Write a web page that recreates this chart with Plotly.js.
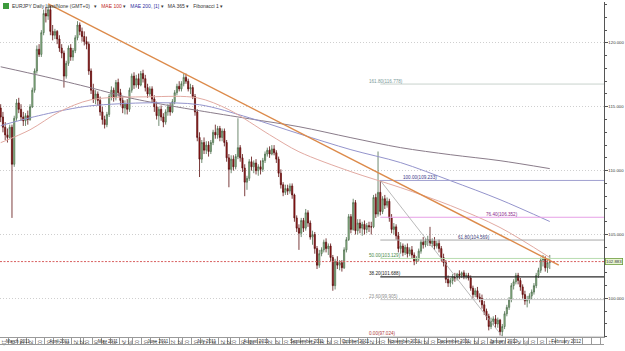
<!DOCTYPE html>
<html><head><meta charset="utf-8">
<script src="https://cdn.plot.ly/plotly-3.0.1.min.js"></script>
<style>html,body{margin:0;padding:0;background:#fff}#chart{width:625px;height:351px}</style>
</head><body><div id="chart"></div>
<script>
// ---------- DATA ----------
const startDate = '2011-03-10';
const firstOpen = 114.9;
const closeP = [
114.2,113.4,112.8,112.6,113.4,110.5,114.1,115.3,114.8,114.2,
113.9,114.3,114.0,115.0,116.3,117.8,119.5,119.1,120.8,122.3,
122.1,122.6,120.9,120.6,120.9,120.3,119.6,119.2,117.4,118.4,
119.6,118.9,119.4,120.4,121.4,120.9,120.5,120.1,119.9,117.8,
116.3,115.6,116.0,115.5,114.6,114.0,113.6,114.4,115.8,116.3,
115.7,116.9,116.1,115.5,114.9,115.2,114.8,116.3,117.4,116.7,
117.2,116.7,117.6,117.2,116.5,116.0,116.4,115.6,115.0,114.3,
114.8,114.2,113.8,114.6,115.0,114.6,115.4,116.1,116.6,116.4,
116.8,117.3,117.0,116.4,116.5,115.8,114.6,112.6,110.9,112.2,
111.6,112.0,111.5,112.2,113.0,112.8,113.3,112.6,113.1,112.2,
111.0,110.1,110.9,110.3,111.1,111.8,111.0,110.2,109.1,109.4,
110.7,110.3,110.6,110.0,110.3,110.1,110.8,111.3,111.6,111.3,
111.7,111.4,110.9,109.8,108.9,108.3,108.6,108.4,108.8,108.1,
106.3,105.5,105.1,106.1,105.5,106.7,105.9,104.8,105.0,103.9,
102.6,103.5,103.8,104.4,103.9,104.1,103.2,101.0,102.9,102.6,
102.8,102.4,103.8,104.6,106.4,105.4,107.5,105.3,105.9,105.5,
105.8,105.4,105.7,105.6,105.6,107.9,106.6,108.3,106.8,107.8,
107.3,107.6,106.3,105.4,105.6,104.9,103.9,104.1,103.6,104.0,
103.5,103.8,103.4,102.9,103.1,103.7,104.4,104.2,104.5,104.6,
104.3,104.5,104.1,104.3,103.9,103.2,102.8,101.5,101.2,101.4,
101.7,101.6,101.9,101.8,102.0,101.7,101.8,101.6,100.8,100.3,
100.6,100.1,100.0,99.5,99.0,98.6,97.8,98.2,98.4,98.0,
98.3,97.4,97.8,98.8,99.3,99.9,101.0,101.3,101.8,101.4,
100.9,100.3,99.8,99.9,100.2,100.5,101.0,101.8,102.2,103.0,
103.1,102.4,102.8,102.883];
const highP = [
115.2,114.6,113.8,113.3,113.6,113.6,114.3,115.6,115.7,115.2,
114.6,114.5,114.7,115.2,116.5,118.0,119.8,119.9,121.0,122.6,
122.8,123.0,122.9,121.4,121.1,121.0,120.6,119.9,119.4,118.6,
119.8,119.9,119.6,120.6,121.7,121.6,121.2,120.9,120.5,120.1,
118.0,116.8,116.3,116.2,115.8,115.0,114.3,114.6,116.0,116.6,
116.5,117.1,117.2,116.4,115.8,115.5,115.6,116.5,117.6,117.7,
117.5,117.6,117.8,117.9,117.5,116.8,116.6,116.6,115.9,115.4,
115.0,115.1,114.5,114.8,115.2,115.3,115.6,116.3,116.8,117.0,
117.0,117.6,117.6,117.2,116.8,116.7,116.0,114.8,113.0,112.4,
112.6,112.3,112.3,112.4,113.2,113.6,113.5,113.5,113.3,113.3,
112.4,111.3,111.2,111.2,111.3,114.1,112.0,111.3,110.5,109.6,
110.9,111.1,110.8,110.9,110.5,110.8,111.0,111.5,111.8,111.9,
112.0,112.0,111.6,111.1,110.1,109.1,108.9,108.9,109.0,109.0,
108.2,106.5,105.8,106.3,106.3,107.0,106.9,106.1,105.3,105.2,
104.1,103.8,104.0,104.6,104.7,104.3,104.3,103.4,103.1,103.3,
103.0,103.0,104.0,104.8,106.6,106.6,107.8,107.7,106.2,106.2,
106.0,106.1,105.9,106.0,106.0,108.1,108.2,111.5,109.233,108.0,
108.1,107.9,107.8,106.6,105.9,105.8,105.2,104.4,104.3,104.2,
104.3,104.0,104.1,103.6,103.3,103.9,104.6,104.8,104.7,104.9,
105.6,104.7,104.8,104.5,104.6,104.1,103.5,103.0,101.8,101.6,
101.9,102.0,102.0,102.2,102.1,102.2,102.0,102.0,101.8,101.0,
100.8,100.9,100.4,100.3,99.8,99.2,98.8,98.5,98.6,98.7,
98.5,98.4,98.0,99.0,99.5,100.1,101.2,101.5,102.0,102.0,
101.6,101.1,100.6,100.2,100.4,100.7,101.2,102.0,102.4,103.2,
103.4,103.3,103.0,103.4];
const lowP = [
113.8,113.0,112.4,112.2,112.5,106.3,110.3,113.9,114.5,113.9,
113.5,113.5,113.6,113.9,114.9,116.1,117.6,118.9,118.9,120.6,
121.6,121.8,120.6,120.2,120.3,119.9,119.3,118.8,116.5,117.2,
118.2,118.6,118.6,119.2,120.2,120.6,120.1,119.8,119.5,117.5,
116.0,115.3,115.2,115.1,114.3,113.6,113.3,113.4,114.2,115.5,
115.4,115.5,115.8,115.1,114.5,114.4,114.4,114.6,116.1,116.4,
116.5,116.4,116.6,116.9,116.2,115.7,115.8,115.3,114.6,114.0,
113.5,113.9,113.4,113.6,114.3,114.3,114.5,115.2,115.9,116.2,
116.2,116.6,116.8,116.2,116.0,115.6,114.3,112.3,109.5,110.6,
111.3,111.3,111.1,111.3,112.0,112.5,112.5,112.3,112.3,111.9,
110.7,108.7,109.8,110.0,110.1,110.9,110.7,109.9,108.0,108.5,
109.2,110.0,109.8,109.7,109.6,109.7,109.9,110.6,111.1,111.0,
111.2,111.2,110.6,109.5,108.6,108.0,108.1,108.1,108.2,107.8,
106.0,105.2,103.8,104.8,105.2,105.3,105.6,104.6,104.2,103.5,
102.3,102.4,103.3,103.6,103.6,103.4,102.9,100.6,100.7,102.3,
102.2,102.1,102.3,103.6,104.5,105.1,105.3,105.0,105.0,105.1,
104.9,105.0,105.1,105.2,105.0,105.5,106.3,106.4,106.5,106.6,
107.0,107.1,106.0,105.1,105.0,104.6,103.6,103.5,103.3,103.4,
103.2,103.3,103.1,102.6,102.7,102.9,103.5,103.9,104.0,104.1,
104.1,104.0,103.8,103.9,103.6,102.9,102.5,101.2,100.9,100.9,
101.1,101.3,101.4,101.5,101.6,101.5,101.5,101.4,100.6,100.0,
100.1,99.9,99.7,99.2,98.7,98.3,97.5,97.6,97.9,97.7,
97.7,97.1,97.024,97.6,98.6,99.1,99.7,100.7,101.1,101.1,
100.6,100.0,99.5,99.3,99.6,99.9,100.3,100.8,101.6,102.0,
102.5,102.1,102.0,102.3];

const ma365Dates = ['2011-03-10','2011-04-07','2011-05-05','2011-05-30','2011-06-23','2011-07-12','2011-08-11','2011-09-12','2011-10-13','2011-11-14','2011-12-14','2012-01-13','2012-02-14'];
const ma365Vals  = [118.13,117.34,116.48,115.70,115.08,114.69,114.06,113.44,112.58,111.80,111.25,110.78,110.16];
const mae200Dates = ['2011-03-10','2011-03-29','2011-04-20','2011-05-05','2011-06-10','2011-07-12','2011-08-11','2011-09-12','2011-10-13','2011-11-14','2011-12-14','2012-01-13','2012-02-14'];
const mae200Vals  = [113.52,114.14,114.77,115.08,115.31,115.16,114.14,112.89,111.64,110.63,109.22,107.73,106.02];
const mae100Dates = ['2011-03-10','2011-03-29','2011-04-15','2011-05-05','2011-06-10','2011-07-11','2011-07-29','2011-08-24','2011-09-12','2011-10-13','2011-11-14','2011-12-14','2012-01-13','2012-02-14'];
const mae100Vals  = [112.19,113.20,114.61,115.55,115.78,115.70,114.77,112.81,111.48,109.92,108.67,107.27,105.55,103.20];

const trendDates = ['2011-04-08','2012-02-20'];
const trendVals  = [123.05,102.61];

const fibHighDate = '2011-11-01', fibHigh = 109.233;
const fibLowDate  = '2012-01-16', fibLow  = 97.024;
const fibPct = [0, 23.6, 38.2, 50, 61.8, 76.4, 100, 161.8];

const monthNames = ['January','February','March','April','May','June','July','August','September','October','November','December'];

// ---------- STYLE ----------
const FONT = 'Liberation Sans, Arial, sans-serif';
const fibLineColor  = ['#d6d6d6','#c8c8c8','#2a2a2a','#b8dcb0','#a8a8a8','#e6a0e6','#a0a0d0','#c8d2cc'];
const fibLabelColor = ['#b04040','#909090','#222222','#4a8a4a','#3a3a7a','#8a2a8a','#3a3a8a','#7a9a9a'];
const fibLabelX     = [162.5,162.5,162.5,162.5,202,214.3,177.6,162.5];
const slotCount = 268;
const xRange = [-0.3, 267];

// ---------- CALENDAR (weekday slots) ----------
const dates = [];
{
  const d = new Date(startDate + 'T00:00:00Z');
  while (dates.length < slotCount) {
    const wd = d.getUTCDay();
    if (wd !== 0 && wd !== 6) dates.push(d.toISOString().slice(0,10));
    d.setUTCDate(d.getUTCDate() + 1);
  }
}
const idxOf = {}; dates.forEach((s,i)=>idxOf[s]=i);
const X = s => idxOf[s];

const n = closeP.length;
const xs = closeP.map((_,i)=>i);
const openP = closeP.map((c,i)=> i===0 ? firstOpen : closeP[i-1]);
const hiP = highP.map((h,i)=>Math.max(h, openP[i], closeP[i]));
const loP = lowP.map((l,i)=>Math.min(l, openP[i], closeP[i]));

// month segments (last one stretched to the right edge)
const segs = [];
for (let i = 0; i < n; i++) {
  const m = dates[i].slice(0,7);
  if (!segs.length || segs[segs.length-1].key !== m) segs.push({key:m, start:i, end:i});
  else segs[segs.length-1].end = i;
}
segs[segs.length-1].end = xRange[1];
const monthBounds = segs.slice(1).map(s=>s.start-0.5);
const monthCenters = segs.map((s,k)=>{
  const a = k===0 ? xRange[0] : s.start-0.5;
  const b = k===segs.length-1 ? xRange[1] : s.end+0.5;
  return (a+b)/2;
});
const monthText = segs.map(s=>monthNames[+s.key.slice(5,7)-1]+' '+s.key.slice(0,4));

const cellBounds = [], cellCenters = [], cellText = [];
segs.forEach((s)=>{
  for (let c = s.start; c <= s.end; c += 4) {
    const a = c - 0.5, b = Math.min(c + 3.5, s.end + 0.5);
    cellBounds.push(a);
    cellCenters.push((a+b)/2);
    cellText.push(c < n ? dates[c].slice(8,10) : '');
  }
});

// ---------- TRACES ----------
const traces = [];
traces.push({
  type:'candlestick', x:xs, open:openP, high:hiP, low:loP, close:closeP,
  increasing:{line:{color:'#4d6d4d',width:0.8}, fillcolor:'#a9d9a0'},
  decreasing:{line:{color:'#5a0c0c',width:0.8}, fillcolor:'#a81818'},
  whiskerwidth:0, hoverinfo:'skip', showlegend:false
});
traces.push({type:'scatter', mode:'lines', x:ma365Dates.map(X), y:ma365Vals,
  line:{color:'#8a7c8a', width:1, shape:'spline', smoothing:0.9}, hoverinfo:'skip'});
traces.push({type:'scatter', mode:'lines', x:mae200Dates.map(X), y:mae200Vals,
  line:{color:'#9494cc', width:1, shape:'spline', smoothing:0.9}, hoverinfo:'skip'});
traces.push({type:'scatter', mode:'lines', x:mae100Dates.map(X), y:mae100Vals,
  line:{color:'#e2aaa2', width:1, shape:'spline', smoothing:0.9}, hoverinfo:'skip'});

const fibVals = fibPct.map(p => Math.round((fibLow + (fibHigh - fibLow) * p / 100) * 1000 + 1e-6) / 1000);
fibPct.forEach((p,k)=>{
  traces.push({type:'scatter', mode:'lines', x:[X(fibHighDate), xRange[1]], y:[fibVals[k], fibVals[k]],
    line:{color:fibLineColor[k], width: p===38.2 ? 1.2 : 1}, hoverinfo:'skip'});
});
traces.push({type:'scatter', mode:'lines', x:[X(fibHighDate), X(fibLowDate)], y:[fibHigh, fibLow],
  line:{color:'#a8a8a8', width:0.8}, hoverinfo:'skip'});
traces.push({type:'scatter', mode:'lines', x:trendDates.map(X), y:trendVals,
  line:{color:'#dc8a4a', width:1.4}, hoverinfo:'skip'});
// dummy traces to register the label axes
traces.push({type:'scatter', x:[], y:[], xaxis:'x2', yaxis:'y', hoverinfo:'skip'});
traces.push({type:'scatter', x:[], y:[], xaxis:'x3', yaxis:'y', hoverinfo:'skip'});

const lastClose = closeP[n-1];
const plotH = 351 - 2 - 14;

const annotations = [];
fibPct.forEach((p,k)=>{
  annotations.push({x:fibLabelX[k], y:fibVals[k], xref:'x', yref:'y', xanchor:'left', yanchor:'bottom',
    text: p.toFixed(2)+'('+fibVals[k].toFixed(3)+')', showarrow:false,
    font:{family:FONT, size:4.6, color:fibLabelColor[k]}, borderpad:0, yshift:-0.5});
});
annotations.push({xref:'paper', x:1, xanchor:'left', xshift:1, yref:'y', y:lastClose, yanchor:'middle',
  text:lastClose.toFixed(3), showarrow:false, bgcolor:'#e9f6d4', bordercolor:'#6c9c3c', borderwidth:0.8, borderpad:0.3,
  font:{family:FONT, size:4.3, color:'#333'}});
annotations.push({xref:'paper', x:10/604, xanchor:'left', yref:'paper', y:1-4/plotH, yanchor:'middle', showarrow:false,
  text:'EURJPY Daily Last/None (GMT+0)&nbsp;&nbsp;&nbsp;▾&nbsp;&nbsp;&nbsp;<span style="color:#c02828">MAE 100</span> ▾&nbsp;&nbsp;&nbsp;<span style="color:#3030a0">MAE 200, [1]</span> ▾&nbsp;&nbsp;&nbsp;MA 365 ▾&nbsp;&nbsp;&nbsp;Fibonacci 1 ▾',
  font:{family:FONT, size:5, color:'#333'}});

const shapes = [
  {type:'line', xref:'paper', x0:0, x1:1, yref:'y', y0:lastClose, y1:lastClose,
   line:{color:'#d86060', width:1, dash:'2px,1.5px'}},
  {type:'line', xref:'paper', x0:0, x1:1, yref:'paper', y0:-7.5/plotH, y1:-7.5/plotH, line:{color:'#9a9a9a', width:1}},
  {type:'rect', xref:'paper', x0:3/604, x1:9/604, yref:'paper', y0:1-7/plotH, y1:1-1/plotH,
   fillcolor:'#3c9a3c', line:{width:0}}
];

const axBase = {range:xRange, showgrid:false, zeroline:false, fixedrange:true};
const layout = {
  width:625, height:351, margin:{l:0, r:21, t:2, b:14},
  paper_bgcolor:'#fff', plot_bgcolor:'#fff', showlegend:false,
  font:{family:FONT, size:5, color:'#333'},
  xaxis:Object.assign({}, axBase, {
    rangeslider:{visible:false}, showline:true, linecolor:'#9a9a9a', linewidth:1,
    tickmode:'array', tickvals:monthBounds, ticktext:monthBounds.map(()=>''), showticklabels:false,
    ticks:'outside', ticklen:14, tickcolor:'#9a9a9a', tickwidth:1,
    minor:{tickmode:'array', tickvals:cellBounds, ticks:'outside', ticklen:7, tickcolor:'#9a9a9a', tickwidth:1, showgrid:false}
  }),
  xaxis2:Object.assign({}, axBase, {
    overlaying:'x', anchor:'free', position:0, side:'bottom', showline:false,
    tickmode:'array', tickvals:cellCenters, ticktext:cellText, ticks:'',
    tickfont:{family:FONT, size:4.6, color:'#333'}, ticklabelstandoff:0
  }),
  xaxis3:Object.assign({}, axBase, {
    overlaying:'x', anchor:'free', position:0, side:'bottom', showline:false,
    tickmode:'array', tickvals:monthCenters, ticktext:monthText, ticks:'',
    tickfont:{family:FONT, size:4.6, color:'#333'}, ticklabelstandoff:7.5
  }),
  yaxis:{side:'right', range:[96.98,123.2], fixedrange:true, zeroline:false,
    tickmode:'linear', tick0:100, dtick:5, tickformat:'.3f',
    ticks:'outside', ticklen:2.5, tickcolor:'#555', tickwidth:1, ticklabelstandoff:0,
    showline:true, linecolor:'#555', linewidth:1,
    showgrid:true, gridcolor:'#cfcfcf', griddash:'1px,2px', gridwidth:1,
    minor:{dtick:1, ticks:'outside', ticklen:1.5, tickcolor:'#555', showgrid:false},
    tickfont:{family:FONT, size:4.3, color:'#333'}},
  annotations:annotations, shapes:shapes
};

Plotly.newPlot('chart', traces, layout, {staticPlot:true, displayModeBar:false});
</script>
</body></html>
